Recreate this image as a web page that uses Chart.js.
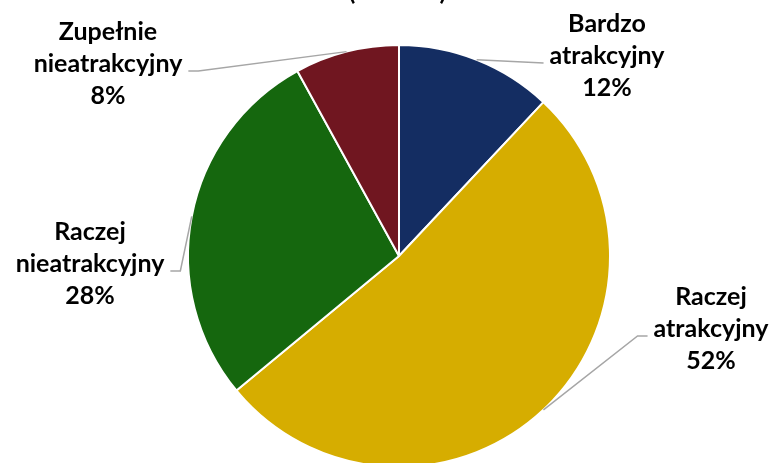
<!DOCTYPE html>
<html>
<head>
<meta charset="utf-8">
<script src="https://cdn.jsdelivr.net/npm/chart.js@4.4.1/dist/chart.umd.min.js"></script>
<style>
    html, body { margin: 0; padding: 0; background: #ffffff; }
    canvas { display: block; }
</style>
</head>
<body>
<canvas id="pieChart" width="770" height="463"></canvas>
<script>
"use strict";

var categories = ["Bardzo atrakcyjny", "Raczej atrakcyjny", "Raczej nieatrakcyjny", "Zupełnie nieatrakcyjny"];
var shares     = [12, 52, 28, 8];
var colours    = ["#142D62", "#D6AD00", "#15670E", "#701620"];

// label placement (centre x, middle-line y) and which side the leader comes from
var labelSpots = [
    {x: 607, y: 56, side: "left"},
    {x: 711, y: 329, side: "left"},
    {x: 90,  y: 264, side: "right"},
    {x: 108, y: 64,  side: "right"}
];

var labelFont = "bold 25px Lato";

var leaderLabels = {
    id: "leaderLabels",
    afterDatasetsDraw: function (chart)
    {
        var ctx  = chart.ctx;
        var arcs = chart.getDatasetMeta(0).data;
        ctx.save();
        ctx.font = labelFont;

        for (var i = 0; i < arcs.length; i++)
        {
            var p     = arcs[i].getProps(["x", "y", "startAngle", "endAngle", "outerRadius"], true);
            var mid   = (p.startAngle + p.endAngle) / 2;
            var sx    = p.x + Math.cos(mid) * p.outerRadius;
            var sy    = p.y + Math.sin(mid) * p.outerRadius;
            var spot  = labelSpots[i];
            var words = categories[i].split(" ");
            var lines = [words[0], words.slice(1).join(" "), shares[i] + "%"];
            var half  = ctx.measureText(lines[1]).width / 2;
            var ey    = spot.y + 7;
            var ex, kx;

            if (spot.side === "left")
            {
                ex = spot.x - half - 6;
                kx = ex - 10;
            }
            else
            {
                ex = spot.x + half + 6;
                kx = ex + 10;
            }
            if (Math.abs(sy - ey) < 4)
            {
                kx = ex;
            }

            ctx.strokeStyle = "#A6A6A6";
            ctx.lineWidth   = 1.5;
            ctx.beginPath();
            ctx.moveTo(sx, sy);
            ctx.lineTo(kx, ey);
            ctx.lineTo(ex, ey);
            ctx.stroke();

            ctx.fillStyle    = "#000000";
            ctx.textAlign    = "center";
            ctx.textBaseline = "middle";
            for (var j = 0; j < lines.length; j++)
            {
                ctx.fillText(lines[j], spot.x, spot.y + (j - 1) * 32);
            }
        }

        // title is cut off by the top edge; only the brackets peek in
        ctx.textBaseline = "alphabetic";
        ctx.fillText("(", 352, 0);
        ctx.fillText(")", 443, 0);
        ctx.restore();
    }
};

new Chart(document.getElementById("pieChart"), {
    type:    "pie",
    data:    {
        labels:   categories,
        datasets: [
            {
                data:            shares,
                backgroundColor: colours,
                borderColor:     "#ffffff",
                borderWidth:     2,
                clip:            false
            }
        ]
    },
    options: {
        responsive:          false,
        animation:           false,
        devicePixelRatio:    1,
        radius:              211,
        layout:              {
            padding: {left: 28, top: 49, right: 0, bottom: 0}
        },
        plugins: {
            legend:  {display: false},
            tooltip: {enabled: false}
        }
    },
    plugins: [leaderLabels]
});
</script>
</body>
</html>
